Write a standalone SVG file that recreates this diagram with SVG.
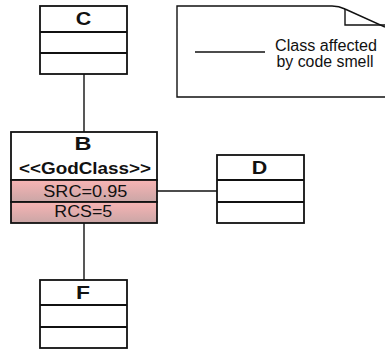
<svg xmlns="http://www.w3.org/2000/svg" width="385" height="350" viewBox="0 0 385 350">
<style>
.box{fill:#fff;stroke:#111;stroke-width:1.8}
.div{stroke:#111;stroke-width:1.8;fill:none}
.pink{fill:url(#pg);stroke:#111;stroke-width:1.8}
.conn{stroke:#111;stroke-width:1.4;fill:none}
.title{font-family:"Liberation Sans",Arial,sans-serif;font-weight:bold;font-size:19px;fill:#111;text-anchor:middle}
.stereo{font-family:"Liberation Sans",Arial,sans-serif;font-weight:bold;font-size:15.8px;fill:#111;text-anchor:middle}
.attr{font-family:"Liberation Sans",Arial,sans-serif;font-size:16.3px;fill:#111;text-anchor:middle}
.note{font-family:"Liberation Sans",Arial,sans-serif;font-size:16px;fill:#111;text-anchor:middle}
</style>
<defs>
<linearGradient id="pg" x1="0" y1="0" x2="0" y2="1">
<stop offset="0" stop-color="#f8b4b4"/>
<stop offset="1" stop-color="#caa6a6"/>
</linearGradient>
</defs>
<g id="connectors">
<line class="conn" x1="84" y1="74" x2="84" y2="132"/>
<line class="conn" x1="84" y1="223" x2="84" y2="280"/>
<line class="conn" x1="157" y1="191" x2="217" y2="191"/>
</g>
<g id="note">
<path d="M385,97 L177,97 L177,6 L332,6 C338,6 341,7 345,9 L385,27" fill="#fff" stroke="#111" stroke-width="1.4"/>
<path d="M345,9 L345,25 L385,25" fill="none" stroke="#111" stroke-width="1.4"/>
<line x1="195" y1="52" x2="265" y2="52" stroke="#111" stroke-width="1.4"/>
<text class="note" x="326" y="50.5" textLength="102" lengthAdjust="spacingAndGlyphs">Class affected</text>
<text class="note" x="325" y="66.5" textLength="97" lengthAdjust="spacingAndGlyphs">by code smell</text>
</g>
<g id="C">
<rect class="box" x="40" y="6" width="87" height="68"/>
<line class="div" x1="40" y1="32" x2="127" y2="32"/>
<line class="div" x1="40" y1="53" x2="127" y2="53"/>
<text class="title" x="83.5" y="24.5" textLength="15.5" lengthAdjust="spacingAndGlyphs">C</text>
</g>
<g id="B">
<rect class="box" x="11" y="132" width="146" height="48"/>
<rect class="pink" x="11" y="180" width="146" height="22"/>
<rect class="pink" x="11" y="202" width="146" height="21"/>
<text class="title" x="83" y="150" textLength="17" lengthAdjust="spacingAndGlyphs">B</text>
<text class="stereo" x="85" y="174.3" textLength="132" lengthAdjust="spacingAndGlyphs">&lt;&lt;GodClass&gt;&gt;</text>
<text class="attr" x="85.3" y="196.9" textLength="84" lengthAdjust="spacingAndGlyphs">SRC=0.95</text>
<text class="attr" x="83.3" y="217.2" textLength="58" lengthAdjust="spacingAndGlyphs">RCS=5</text>
</g>
<g id="D">
<rect class="box" x="217" y="155" width="87" height="68"/>
<line class="div" x1="217" y1="180" x2="304" y2="180"/>
<line class="div" x1="217" y1="202" x2="304" y2="202"/>
<text class="title" x="259.5" y="174.2" textLength="15.5" lengthAdjust="spacingAndGlyphs">D</text>
</g>
<g id="F">
<rect class="box" x="40" y="280" width="87" height="68"/>
<line class="div" x1="40" y1="305" x2="127" y2="305"/>
<line class="div" x1="40" y1="327" x2="127" y2="327"/>
<text class="title" x="83" y="299.2" textLength="14" lengthAdjust="spacingAndGlyphs">F</text>
</g>
</svg>
